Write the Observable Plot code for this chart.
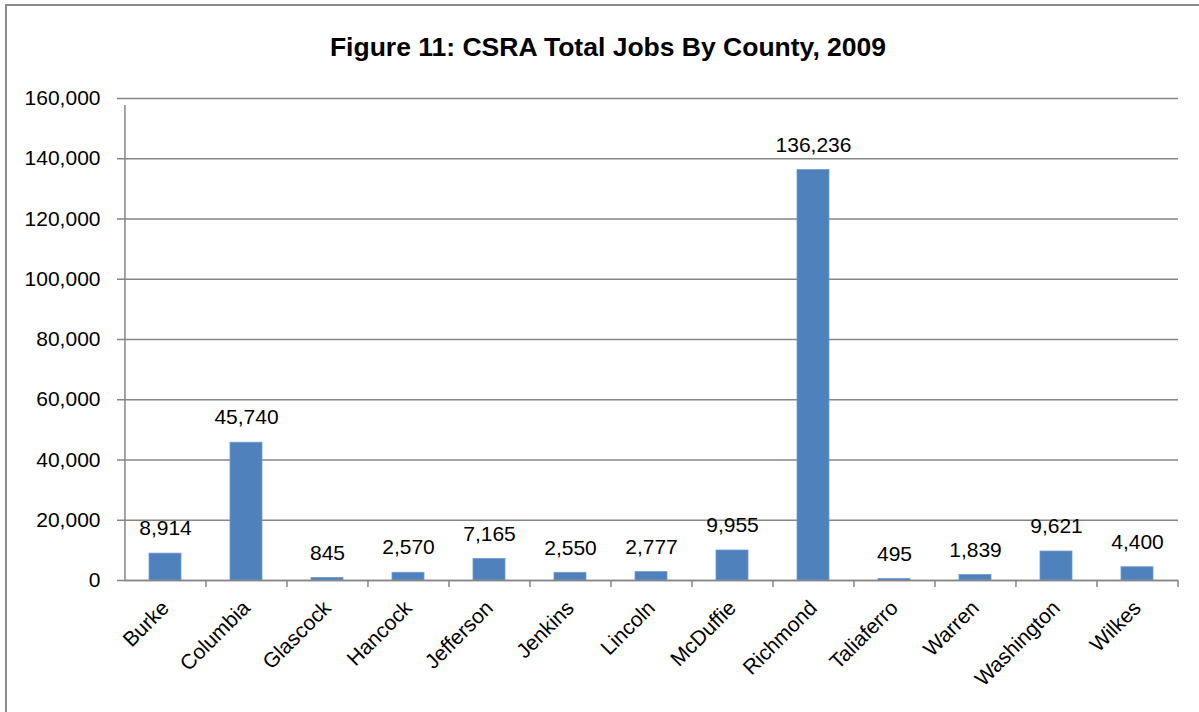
<!DOCTYPE html>
<html>
<head>
<meta charset="utf-8">
<script src="https://cdn.jsdelivr.net/npm/d3@7"></script>
<script src="https://cdn.jsdelivr.net/npm/@observablehq/plot@0.6"></script>
<style>
  html, body { margin: 0; padding: 0; background: #fff; }
  #wrap { position: relative; width: 1199px; height: 712px; overflow: hidden; font-family: "Liberation Sans", Arial, sans-serif; }
  #border { position: absolute; left: 5px; top: 4px; width: 1300px; height: 800px; border-left: 2px solid #8c8c8c; border-top: 2px solid #8c8c8c; }
  #title { position: absolute; left: 0; top: 29px; width: 1216px; text-align: center; font-size: 26.5px; font-weight: bold; color: #000; line-height: 36px; }
  #chart { position: absolute; left: 0; top: 70px; }
</style>
</head>
<body>
<div id="wrap">
  <div id="border"></div>
  <div id="title">Figure 11: CSRA Total Jobs By County, 2009</div>
  <div id="chart"></div>
</div>
<script>
const counties = ["Burke", "Columbia", "Glascock", "Hancock", "Jefferson", "Jenkins", "Lincoln", "McDuffie", "Richmond", "Taliaferro", "Warren", "Washington", "Wilkes"];
const jobs = [8914, 45740, 845, 2570, 7165, 2550, 2777, 9955, 136236, 495, 1839, 9621, 4400];
const yTicks = [0, 20000, 40000, 60000, 80000, 100000, 120000, 140000, 160000];

const data = counties.map((c, i) => ({county: c, jobs: jobs[i]}));
const fmt = d3.format(",");
const half = 1054 / 13 / 2;

const chart = Plot.plot({
  width: 1199,
  height: 642,
  marginTop: 28,
  marginBottom: 132,
  marginLeft: 124,
  marginRight: 21,
  style: { fontFamily: "Liberation Sans, Arial, sans-serif", fontSize: "21px", color: "#000", background: "transparent" },
  x: { domain: counties, paddingInner: 0.6, paddingOuter: 0.3, label: null },
  y: { domain: [0, 160000], label: null },
  marks: [
    Plot.gridY(yTicks, { stroke: "#868686", strokeOpacity: 1, strokeWidth: 1.5 }),
    Plot.axisY(yTicks, { tickSize: 7, tickPadding: 17, stroke: "#868686", strokeWidth: 1.5, tickFormat: fmt, fontSize: 21, label: null }),
    Plot.barY(data, { x: "county", y: "jobs", fill: "#4F81BD", stroke: "#6f9bd0", strokeWidth: 0.8 }),
    Plot.ruleY([0], { stroke: "#868686", strokeWidth: 1.5 }),
    Plot.ruleX([counties[0]], { y1: 0, y2: 160000, dx: -half, insetBottom: -7, stroke: "#868686", strokeWidth: 1.5 }),
    Plot.ruleX(counties.slice(1), { y1: 0, y2: 0, dx: -half, insetBottom: -7, stroke: "#868686", strokeWidth: 1.5 }),
    Plot.ruleX([counties[counties.length - 1]], { y1: 0, y2: 0, dx: half, insetBottom: -7, stroke: "#868686", strokeWidth: 1.5 }),
    Plot.text(data, { x: "county", y: "jobs", text: d => fmt(d.jobs), dy: -25, fontSize: 21, fill: "#000" }),
    Plot.axisX({ tickSize: 0, tickRotate: -45, tickPadding: 24, fontSize: 21, label: null, textAnchor: "end" })
  ]
});
document.getElementById("chart").appendChild(chart);
</script>
</body>
</html>
